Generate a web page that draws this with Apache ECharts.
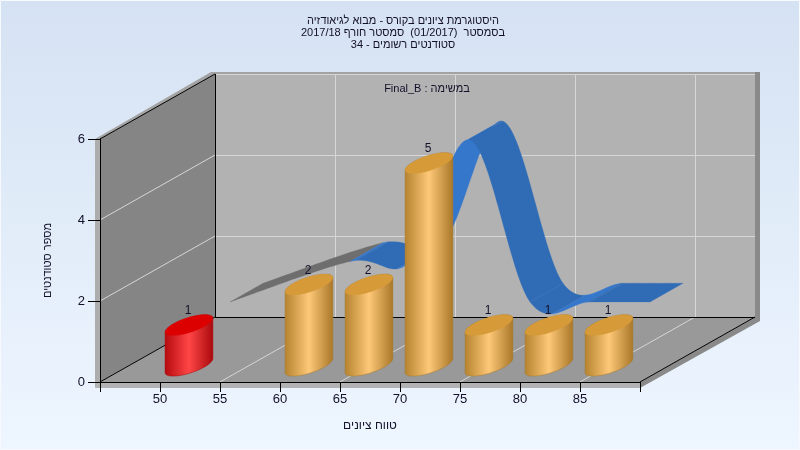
<!DOCTYPE html>
<html>
<head>
<meta charset="utf-8">
<style>html,body{margin:0;padding:0;background:#fff}#c{width:800px;height:450px}</style>
<script src="https://cdn.jsdelivr.net/npm/echarts@6/dist/echarts.min.js"></script>
</head>
<body>
<div id="c" dir="rtl"></div>
<script>
// ---- data ----
const binStarts = [50, 60, 65, 70, 75, 80, 85];
const counts    = [1, 2, 2, 5, 1, 1, 1];
const failingBins = [50];
const titleLines = ['היסטוגרמת ציונים בקורס - מבוא לגיאודזיה', 'בסמסטר  (01/2017)  סמסטר חורף 2017/18', 'סטודנטים רשומים - 34'];
const taskLabel = 'במשימה : Final_B';
const xName = 'טווח ציונים';
const yName = 'מספר סטודנטים';
const backGridX = [55, 65, 75, 85];
const gridY = [2, 4, 6];

// ---- 3D look (oblique projection) ----
const DX = 115, DY = 65;
const X0 = 45, X1 = 90, Y0 = 0, Y1 = 6;
const BAR_Z = 0.252, RIB_Z0 = 0.609, RIB_Z1 = 0.896;
const R_X = 1.48;          // cylinder half width in x units
const R_DX = 16, R_DY = 10.5; // cylinder depth radius in px
const FONT = '"Liberation Sans", Arial, sans-serif';
const INK = '#14102a';

function proj(api, x, y, z) {
  const p = api.coord([x, y]);
  return [p[0] + z * DX, p[1] - z * DY];
}
function poly(points, fill, extra) {
  return Object.assign({ type: 'polygon', shape: { points }, style: { fill }, silent: true }, extra || {});
}
function seg(a, b, stroke, w) {
  const snap = (u, v) => (u === v ? Math.round(u) + 0.5 : u);
  const x1 = snap(a[0], b[0]), x2 = snap(b[0], a[0]);
  const y1 = snap(a[1], b[1]), y2 = snap(b[1], a[1]);
  return { type: 'line', shape: { x1, y1, x2, y2 }, style: { stroke, lineWidth: w || 1 }, silent: true };
}

function renderRoom(params, api) {
  const P = (x, y, z) => proj(api, x, y, z);
  const A = P(X0, Y0, 0), B = P(X1, Y0, 0), C = P(X0, Y0, 1), D = P(X1, Y0, 1);
  const E = P(X0, Y1, 1), F = P(X1, Y1, 1), G = P(X0, Y1, 0);
  const t = 5; // wall thickness
  const kids = [
    poly([[G[0] - t, G[1]], [E[0] - t + 1, E[1] - 2], [F[0] + t, F[1] - 2], [F[0], F[1] + 1], E, G], '#a3a3a3'),
    poly([[G[0] - t, G[1]], G, A, [A[0] - t, A[1] + 6]], '#adadad'),
    poly([[A[0] - t, A[1] + 6], [B[0], B[1] + 6], B, A], '#b2b2b2'),
    poly([[F[0], F[1] - 2], [F[0] + t, F[1] - 2], [D[0] + t, D[1] + 4], [B[0], B[1] + 6], B, D], '#8a8a8a'),
    poly([C, E, F, D], '#b2b2b2'),
    poly([A, G, E, C], '#858585'),
    poly([A, B, D, C], '#999999')
  ];
  const light = '#d6d6d6';
  backGridX.forEach(v => {
    kids.push(seg(P(v, Y0, 1), P(v, Y1, 1), light));
    kids.push(seg(P(v, Y0, 0), P(v, Y0, 1), light));
  });
  gridY.forEach(v => {
    kids.push(seg(P(X0, v, 1), P(X1, v, 1), light));
    if (v < Y1) kids.push(seg(P(X0, v, 0), P(X0, v, 1), light));
  });
  const k = '#000';
  kids.push(seg(A, C, k), seg(C, D, k), seg(B, D, k), seg(C, E, k), seg(G, E, k));
  return { type: 'group', children: kids };
}

// smooth ribbon through the data: runs of equal shade become one polygon
function tangent(arr, i) {
  const a = arr[Math.max(i - 1, 0)], b = arr[Math.min(i + 1, arr.length - 1)];
  return (b - a) / 2;
}
function hermite(p0, p1, m0, m1, t) {
  const t2 = t * t, t3 = t2 * t;
  return (2 * t3 - 3 * t2 + 1) * p0 + (t3 - 2 * t2 + t) * m0 + (-2 * t3 + 3 * t2) * p1 + (t3 - t2) * m1;
}
function renderRibbon(params, api) {
  const i = params.dataIndex;
  if (i >= binStarts.length - 1) return { type: 'group', children: [] };
  const kids = [];
  const n = 32;
  const mx0 = tangent(binStarts, i), mx1 = tangent(binStarts, i + 1);
  const my0 = tangent(counts, i), my1 = tangent(counts, i + 1);
  let prevF = null, prevB = null, fr = [], bk = [], runCol = null;
  const flush = () => {
    if (fr.length > 1) {
      kids.push(poly(fr.concat(bk.slice().reverse()), runCol, { style: { fill: runCol, stroke: runCol, lineWidth: 0.3 } }));
    }
  };
  for (let s = 0; s <= n; s++) {
    const t = s / n;
    const x = hermite(binStarts[i], binStarts[i + 1], mx0, mx1, t);
    const y = hermite(counts[i], counts[i + 1], my0, my1, t);
    const f = proj(api, x, y, RIB_Z0), b = proj(api, x, y, RIB_Z1);
    if (prevF) {
      const slope = (f[1] - prevF[1]) / Math.max(f[0] - prevF[0], 0.01);
      const col = i === 0 ? '#6e6e6e' : (slope < -0.1 ? '#3577cb' : '#306cb6');
      if (col !== runCol) {
        flush();
        runCol = col; fr = [prevF]; bk = [prevB];
      }
      fr.push(f); bk.push(b);
    }
    prevF = f; prevB = b;
  }
  flush();
  return { type: 'group', children: kids };
}

function renderBar(params, api) {
  const xv = api.value(0), yv = api.value(1);
  const bot = proj(api, xv, 0, BAR_Z), top = proj(api, xv, yv, BAR_Z);
  const rx = api.coord([xv + R_X, 0])[0] - api.coord([xv, 0])[0];
  const pt = (c, a) => [c[0] + rx * Math.cos(a) + R_DX * Math.sin(a), c[1] - R_DY * Math.sin(a)];
  const aR = Math.atan2(R_DX, rx);
  const n = 48, topPts = [], body = [];
  for (let s = 0; s < n; s++) topPts.push(pt(top, s / n * 2 * Math.PI));
  for (let s = 0; s <= n / 2; s++) body.push(pt(bot, aR + Math.PI + s / (n / 2) * Math.PI));
  for (let s = 0; s <= n / 2; s++) body.push(pt(top, aR + s / (n / 2) * Math.PI));
  const fail = failingBins.indexOf(xv) >= 0;
  const c = fail ? ['#b50a0e', '#ff4646', '#a9090d', '#dc0000', '#a80a0a'] : ['#b5832f', '#fdc878', '#a97728', '#d69a38', '#a87a30'];
  const grad = new echarts.graphic.LinearGradient(0, 0, 1, 0, [
    { offset: 0, color: c[0] }, { offset: 0.5, color: c[1] }, { offset: 1, color: c[2] }
  ]);
  return {
    type: 'group',
    children: [
      poly(body, grad, { style: { fill: grad, stroke: c[4], lineWidth: 0.5 } }),
      poly(topPts, c[3], { style: { fill: c[3] } }),
      { type: 'text', silent: true, style: { x: top[0] - 1, y: top[1] - 14, text: String(yv), fill: INK, align: 'center', verticalAlign: 'middle', font: '12px ' + FONT } }
    ]
  };
}

const chart = echarts.init(document.getElementById('c'), null, { renderer: 'canvas' });
const pairs = binStarts.map((x, i) => [x, counts[i]]);
chart.setOption({
  animation: false,
  backgroundColor: new echarts.graphic.LinearGradient(0, 0, 0, 1, [
    { offset: 0, color: '#d5e2f3' }, { offset: 1, color: '#eef6ff' }
  ]),
  title: {
    text: titleLines.join('\n'),
    left: 398, top: 10, textAlign: 'center',
    textStyle: { fontFamily: FONT, fontSize: 11, fontWeight: 'normal', color: INK, lineHeight: 12 }
  },
  grid: { left: 100, top: 139, width: 540, height: 243 },
  xAxis: {
    type: 'value', min: X0, max: X1, interval: 5,
    name: xName, nameLocation: 'middle', nameGap: 38,
    nameTextStyle: { fontFamily: FONT, fontSize: 12, color: INK },
    axisLine: { show: true, onZero: false, lineStyle: { color: '#000', width: 1 } },
    axisTick: { show: true, inside: false, length: 10, lineStyle: { color: '#000', width: 1, opacity: 1 } },
    axisLabel: {
      margin: 11, fontFamily: FONT, fontSize: 13, color: INK,
      formatter: v => (v === X0 || v === X1) ? '' : String(v)
    },
    splitLine: { show: false }
  },
  yAxis: {
    type: 'value', min: Y0, max: Y1, interval: 2,
    name: yName, nameLocation: 'middle', nameRotate: 90, nameGap: 47,
    nameTextStyle: { fontFamily: FONT, fontSize: 11, color: INK },
    axisLine: { show: true, onZero: false, lineStyle: { color: '#000', width: 1 } },
    axisTick: { show: true, inside: false, length: 12, lineStyle: { color: '#000', width: 1, opacity: 1 } },
    axisLabel: { margin: 15, fontFamily: FONT, fontSize: 13, color: INK },
    splitLine: { show: false }
  },
  graphic: [
    { type: 'rect', z: 100, silent: true, shape: { x: 0.5, y: 0.5, width: 799, height: 449 }, style: { fill: 'none', stroke: '#f6f9fd', lineWidth: 1 } },
    { type: 'text', z: 100, silent: true, x: 427, y: 88.5, style: { text: taskLabel, fill: INK, align: 'center', verticalAlign: 'middle', font: '11px ' + FONT } }
  ],
  series: [
    { name: 'room', type: 'custom', z: -1, clip: false, silent: true, data: [[X0, Y0]], renderItem: renderRoom, encode: { x: 0, y: 1 } },
    { name: 'curve', type: 'custom', z: 3, clip: false, silent: true, data: pairs, renderItem: renderRibbon, encode: { x: 0, y: 1 } },
    { name: 'bars', type: 'custom', z: 4, clip: false, silent: true, data: pairs, renderItem: renderBar, encode: { x: 0, y: 1 } }
  ]
});
</script>
</body>
</html>
